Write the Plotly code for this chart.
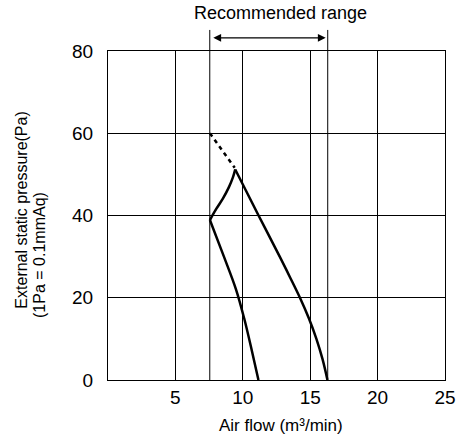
import plotly.graph_objects as go

# Data
range_low = 7.55
range_high = 16.3

lower_x = [7.56, 8.6, 9.5, 10.1, 10.68, 11.16]
lower_y = [38.9, 30.0, 22.0, 15.0, 7.0, 0.0]

upper_x = [9.44, 11.17, 12.74, 13.5, 14.24, 14.9, 15.46, 15.92, 16.28]
upper_y = [51.2, 40.0, 30.0, 25.0, 20.0, 15.0, 10.0, 5.0, 0.0]

arc_x = [7.56, 8.03, 8.52, 8.97, 9.26, 9.44]
arc_y = [38.9, 41.6, 44.1, 46.9, 49.2, 51.2]

dotted_x = [7.56, 9.4]
dotted_y = [60.0, 51.6]

x_ticks = [5, 10, 15, 20, 25]
y_ticks = [0, 20, 40, 60, 80]

FONT = "Liberation Sans, Arial, sans-serif"
TICK_SIZE = 19

fig = go.Figure()
for xs, ys in [(lower_x, lower_y), (upper_x, upper_y), (arc_x, arc_y)]:
    fig.add_trace(go.Scatter(x=xs, y=ys, mode="lines",
                             line=dict(color="black", width=2.5, shape="spline", smoothing=1.0),
                             showlegend=False, hoverinfo="skip"))
fig.add_trace(go.Scatter(x=dotted_x, y=dotted_y, mode="lines",
                         line=dict(color="black", width=2.5, dash="4px,4px"),
                         showlegend=False, hoverinfo="skip"))

# Recommended range lines extending above the plot
for xv in [range_low, range_high]:
    fig.add_shape(type="line", xref="x", yref="paper", x0=xv, x1=xv, y0=0, y1=1.064,
                  line=dict(color="black", width=1))

fig.add_annotation(x=range_high - 0.15, y=1.04, xref="x", yref="paper",
                   ax=range_low + 0.15, ay=0, axref="x", ayref="pixel",
                   text="", showarrow=True, arrowhead=2, arrowside="end+start",
                   arrowsize=1.2, arrowwidth=1.3, arrowcolor="black", standoff=0, startstandoff=0)
fig.add_annotation(x=0.513, y=1.1155, xref="paper", yref="paper", text="Recommended range",
                   showarrow=False, xanchor="center", yanchor="middle",
                   font=dict(family=FONT, size=18, color="black"))
fig.add_annotation(x=0.513, y=-0.137, xref="paper", yref="paper", text="Air flow (m³/min)",
                   showarrow=False, xanchor="center", yanchor="middle",
                   font=dict(family=FONT, size=17, color="black"))
fig.add_annotation(x=-0.256, y=0.517, xref="paper", yref="paper", text="External static pressure(Pa)",
                   showarrow=False, textangle=-90, xanchor="center", yanchor="middle",
                   font=dict(family=FONT, size=16, color="black"))
fig.add_annotation(x=-0.2018, y=0.38, xref="paper", yref="paper", text="(1Pa = 0.1mmAq)",
                   showarrow=False, textangle=-90, xanchor="center", yanchor="middle",
                   font=dict(family=FONT, size=16, color="black"))

fig.update_xaxes(range=[0, 25], tickvals=x_ticks, ticktext=[str(v) for v in x_ticks],
                 showgrid=True, gridcolor="black", gridwidth=1,
                 showline=True, linecolor="black", linewidth=1, mirror=True,
                 ticks="", zeroline=False, automargin=False,
                 tickfont=dict(family=FONT, size=TICK_SIZE, color="black"))
fig.update_yaxes(range=[0, 80], tickvals=y_ticks, ticktext=[str(v) for v in y_ticks],
                 showgrid=True, gridcolor="black", gridwidth=1,
                 showline=True, linecolor="black", linewidth=1, mirror=True,
                 ticks="", zeroline=False, automargin=False, ticklabelstandoff=10,
                 tickfont=dict(family=FONT, size=TICK_SIZE, color="black"))

fig.update_layout(width=457, height=443, margin=dict(l=108, r=12, t=51, b=63),
                  plot_bgcolor="white", paper_bgcolor="white", font=dict(family=FONT),
                  hovermode=False)

fig.write_html("out.html", config={"displayModeBar": False},
               post_script="document.body.style.margin='0';")
